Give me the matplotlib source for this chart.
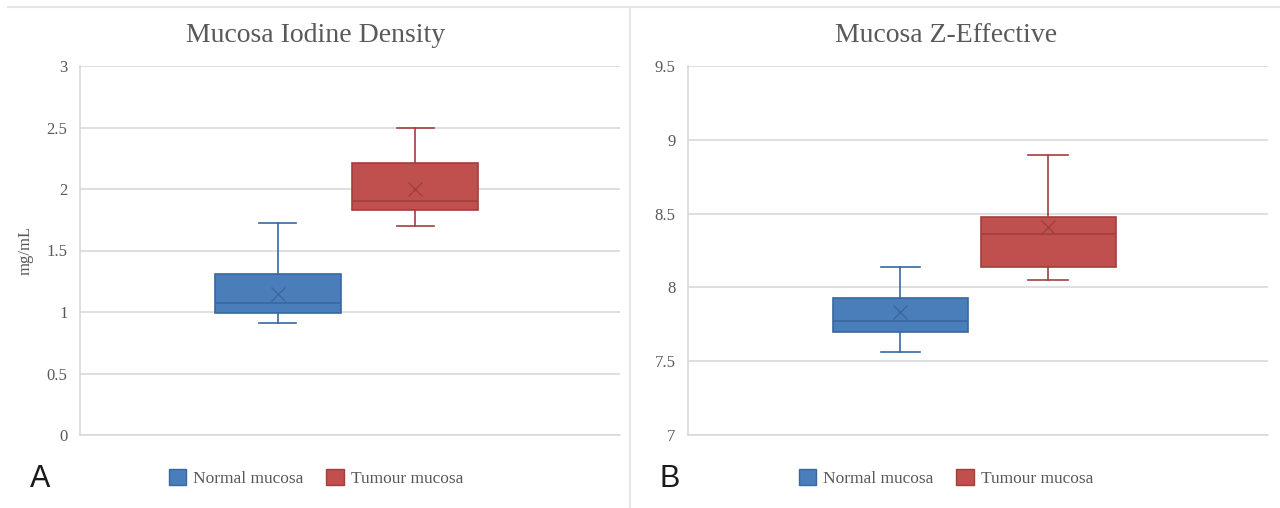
import numpy as np
import matplotlib.pyplot as plt
from matplotlib.patches import Patch
from matplotlib.lines import Line2D

# box statistics: whislo, q1, med, q3, whishi, mean
groups = ['Normal mucosa', 'Tumour mucosa']
iodine_stats = [[0.91, 0.99, 1.07, 1.31, 1.72, 1.15],
                [1.70, 1.83, 1.90, 2.21, 2.50, 2.00]]
zeff_stats = [[7.56, 7.70, 7.77, 7.93, 8.14, 7.83],
              [8.05, 8.14, 8.36, 8.48, 8.90, 8.41]]
titles = ['Mucosa Iodine Density', 'Mucosa Z-Effective']
ylims = [(0, 3), (7, 9.5)]
yticks = [[0, 0.5, 1, 1.5, 2, 2.5, 3], [7, 7.5, 8, 8.5, 9, 9.5]]
ytick_labels = [['0', '0.5', '1', '1.5', '2', '2.5', '3'],
                ['7', '7.5', '8', '8.5', '9', '9.5']]
panel_labels = ['A', 'B']

fills = ['#4a7ebb', '#c0504d']
edges = ['#3a679e', '#a0403d']
grid_c = '#d9d9d9'
txt_c = '#595959'
serif = ['Liberation Serif', 'DejaVu Serif']

fig = plt.figure(figsize=(12.8, 5.08), dpi=100)

# axes rectangles in pixels: left, right, top, bottom
rects = [(80, 620, 66, 435), (688, 1268, 66, 435)]
W, H = 1280, 508

for k in range(2):
    l, r, t, b = rects[k]
    ax = fig.add_axes([l / W, 1 - b / H, (r - l) / W, (b - t) / H])
    data = [iodine_stats, zeff_stats][k]
    stats = []
    for s in data:
        stats.append(dict(whislo=s[0], q1=s[1], med=s[2], q3=s[3], whishi=s[4],
                          mean=s[5], fliers=[]))
    pos = [0.366, 0.621]
    for i in range(2):
        ax.bxp([stats[i]], positions=[pos[i]], widths=0.233, patch_artist=True,
               showmeans=True, showcaps=True,
               boxprops=dict(facecolor=fills[i], edgecolor=edges[i], linewidth=1.2),
               medianprops=dict(color=edges[i], linewidth=1.2),
               whiskerprops=dict(color=edges[i], linewidth=1.2),
               capprops=dict(color=edges[i], linewidth=1.2),
               capwidths=0.068,
               meanprops=dict(marker='x', markeredgecolor=edges[i], markersize=10,
                              markeredgewidth=1.0))
    ax.set_xlim(0, 1)
    ax.set_ylim(*ylims[k])
    ax.set_yticks(yticks[k])
    ax.set_yticklabels(ytick_labels[k], fontfamily=serif, fontsize=12, color=txt_c)
    ax.set_xticks([])
    ax.tick_params(axis='y', length=0, pad=9)
    ax.yaxis.grid(True, color=grid_c, linewidth=1.2)
    ax.set_axisbelow(True)
    for sp in ['top', 'right']:
        ax.spines[sp].set_visible(False)
    for sp in ['left', 'bottom']:
        ax.spines[sp].set_color(grid_c)
        ax.spines[sp].set_linewidth(1.2)
    if k == 0:
        ax.set_ylabel('mg/mL', fontfamily=serif, fontsize=12, color=txt_c, labelpad=9)

    cx = (0 if k == 0 else 630) + 316
    fig.text(cx / W, 1 - 35 / H, titles[k], ha='center', va='center',
             fontfamily=serif, fontsize=20, color=txt_c)
    handles = [Patch(facecolor=fills[i], edgecolor=edges[i]) for i in range(2)]
    fig.legend(handles, groups, loc='center', bbox_to_anchor=(cx / W, 1 - 478 / H),
               ncol=2, frameon=False, prop=dict(family=serif, size=12.5),
               labelcolor=txt_c, handlelength=1.0, handleheight=1.0,
               handletextpad=0.4, columnspacing=1.3)
    fig.text(((0 if k == 0 else 630) + 40) / W, 1 - 479 / H, panel_labels[k],
             ha='center', va='center', fontfamily=['Liberation Sans', 'DejaVu Sans'],
             fontsize=22, color='#1a1a1a')

# panel frames
frame_c = '#e6e6e6'
fig.add_artist(Line2D([8 / W, 1], [1 - 7 / H, 1 - 7 / H], color=frame_c, linewidth=1.5))
fig.add_artist(Line2D([630 / W, 630 / W], [0, 1 - 7 / H], color=frame_c, linewidth=1.5))

fig.savefig('out.png', dpi=100)
